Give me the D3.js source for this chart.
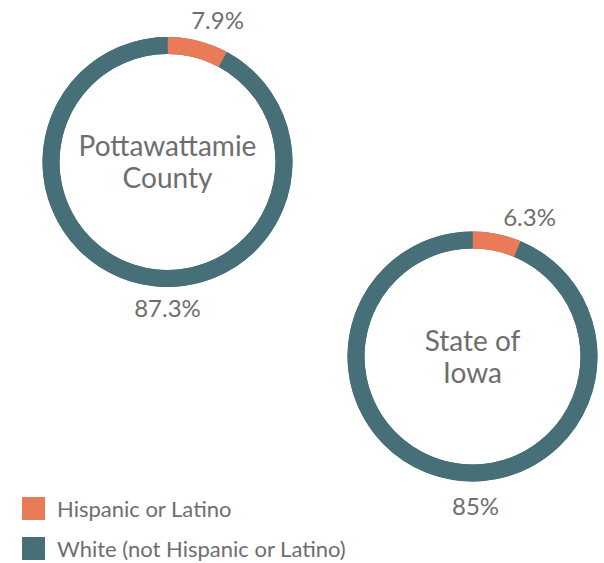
<!DOCTYPE html>
<html>
<head>
<meta charset="utf-8">
<script src="https://cdn.jsdelivr.net/npm/d3@7"></script>
<style>
  body { margin: 0; background: #fff; }
  text { font-family: Lato, "Open Sans", sans-serif; fill: #6e6e6e; }
</style>
</head>
<body>
<div id="chart"></div>
<script>
// data
const regions = ["Pottawattamie County", "State of Iowa"]
const regionLines = [["Pottawattamie", "County"], ["State of", "Iowa"]]
const categories = ["Hispanic or Latino", "White (not Hispanic or Latino)", "Other"]
const hispanic = [7.9, 6.3]
const white = [87.3, 85]
const other = [4.8, 8.7]
const hispanicLabels = ["7.9%", "6.3%"]
const whiteLabels = ["87.3%", "85%"]

const colors = { "Hispanic or Latino": "#e97b59", "White (not Hispanic or Latino)": "#466f78", "Other": "#466f78" }

var width = 604, height = 563
var outer = 125, inner = 108
var centers = [[167.5, 162], [472.5, 356.5]]
// label placement (offsets from donut center)
var topLabelPos = [[50, -133], [57, -130.5]]
var bottomLabelPos = [[0, 155], [3, 158]]

var svg = d3.select("#chart")
    .append("svg")
    .attr("width", width)
    .attr("height", height)

var pie = d3.pie().sort(null).value(d => d.value)
var arc = d3.arc().innerRadius(inner).outerRadius(outer)

regions.forEach((r, i) => {
    var data = [
        { cat: categories[0], value: hispanic[i] },
        { cat: categories[1], value: white[i] },
        { cat: categories[2], value: other[i] }
    ]
    var g = svg.append("g")
        .attr("transform", "translate(" + centers[i][0] + "," + centers[i][1] + ")")

    // teal track underneath so the teal slices show no seams
    g.append("path")
        .attr("d", arc({ startAngle: 0, endAngle: 2 * Math.PI }))
        .attr("fill", colors[categories[1]])

    g.selectAll("path.slice").data(pie(data))
        .enter().append("path")
        .attr("class", "slice")
        .attr("d", arc)
        .attr("fill", d => colors[d.data.cat])

    // center label
    g.append("text")
        .attr("text-anchor", "middle")
        .style("font-size", "28px")
        .selectAll("tspan").data(regionLines[i])
        .enter().append("tspan")
        .attr("x", 0)
        .attr("y", (d, j) => j * 32 - 6)
        .text(d => d)

    // value labels
    g.append("text")
        .attr("text-anchor", "middle")
        .attr("x", topLabelPos[i][0])
        .attr("y", topLabelPos[i][1])
        .style("font-size", "24px")
        .text(hispanicLabels[i])

    g.append("text")
        .attr("text-anchor", "middle")
        .attr("x", bottomLabelPos[i][0])
        .attr("y", bottomLabelPos[i][1])
        .style("font-size", "24px")
        .text(whiteLabels[i])
})

// legend
var legend = svg.append("g").attr("transform", "translate(22,497)")
categories.slice(0, 2).forEach((c, i) => {
    legend.append("rect")
        .attr("x", 0)
        .attr("y", i * 40)
        .attr("width", 23)
        .attr("height", 23)
        .attr("fill", colors[c])
    legend.append("text")
        .attr("x", 35)
        .attr("y", i * 40 + 20)
        .style("font-size", "22px")
        .text(c)
})
</script>
</body>
</html>
